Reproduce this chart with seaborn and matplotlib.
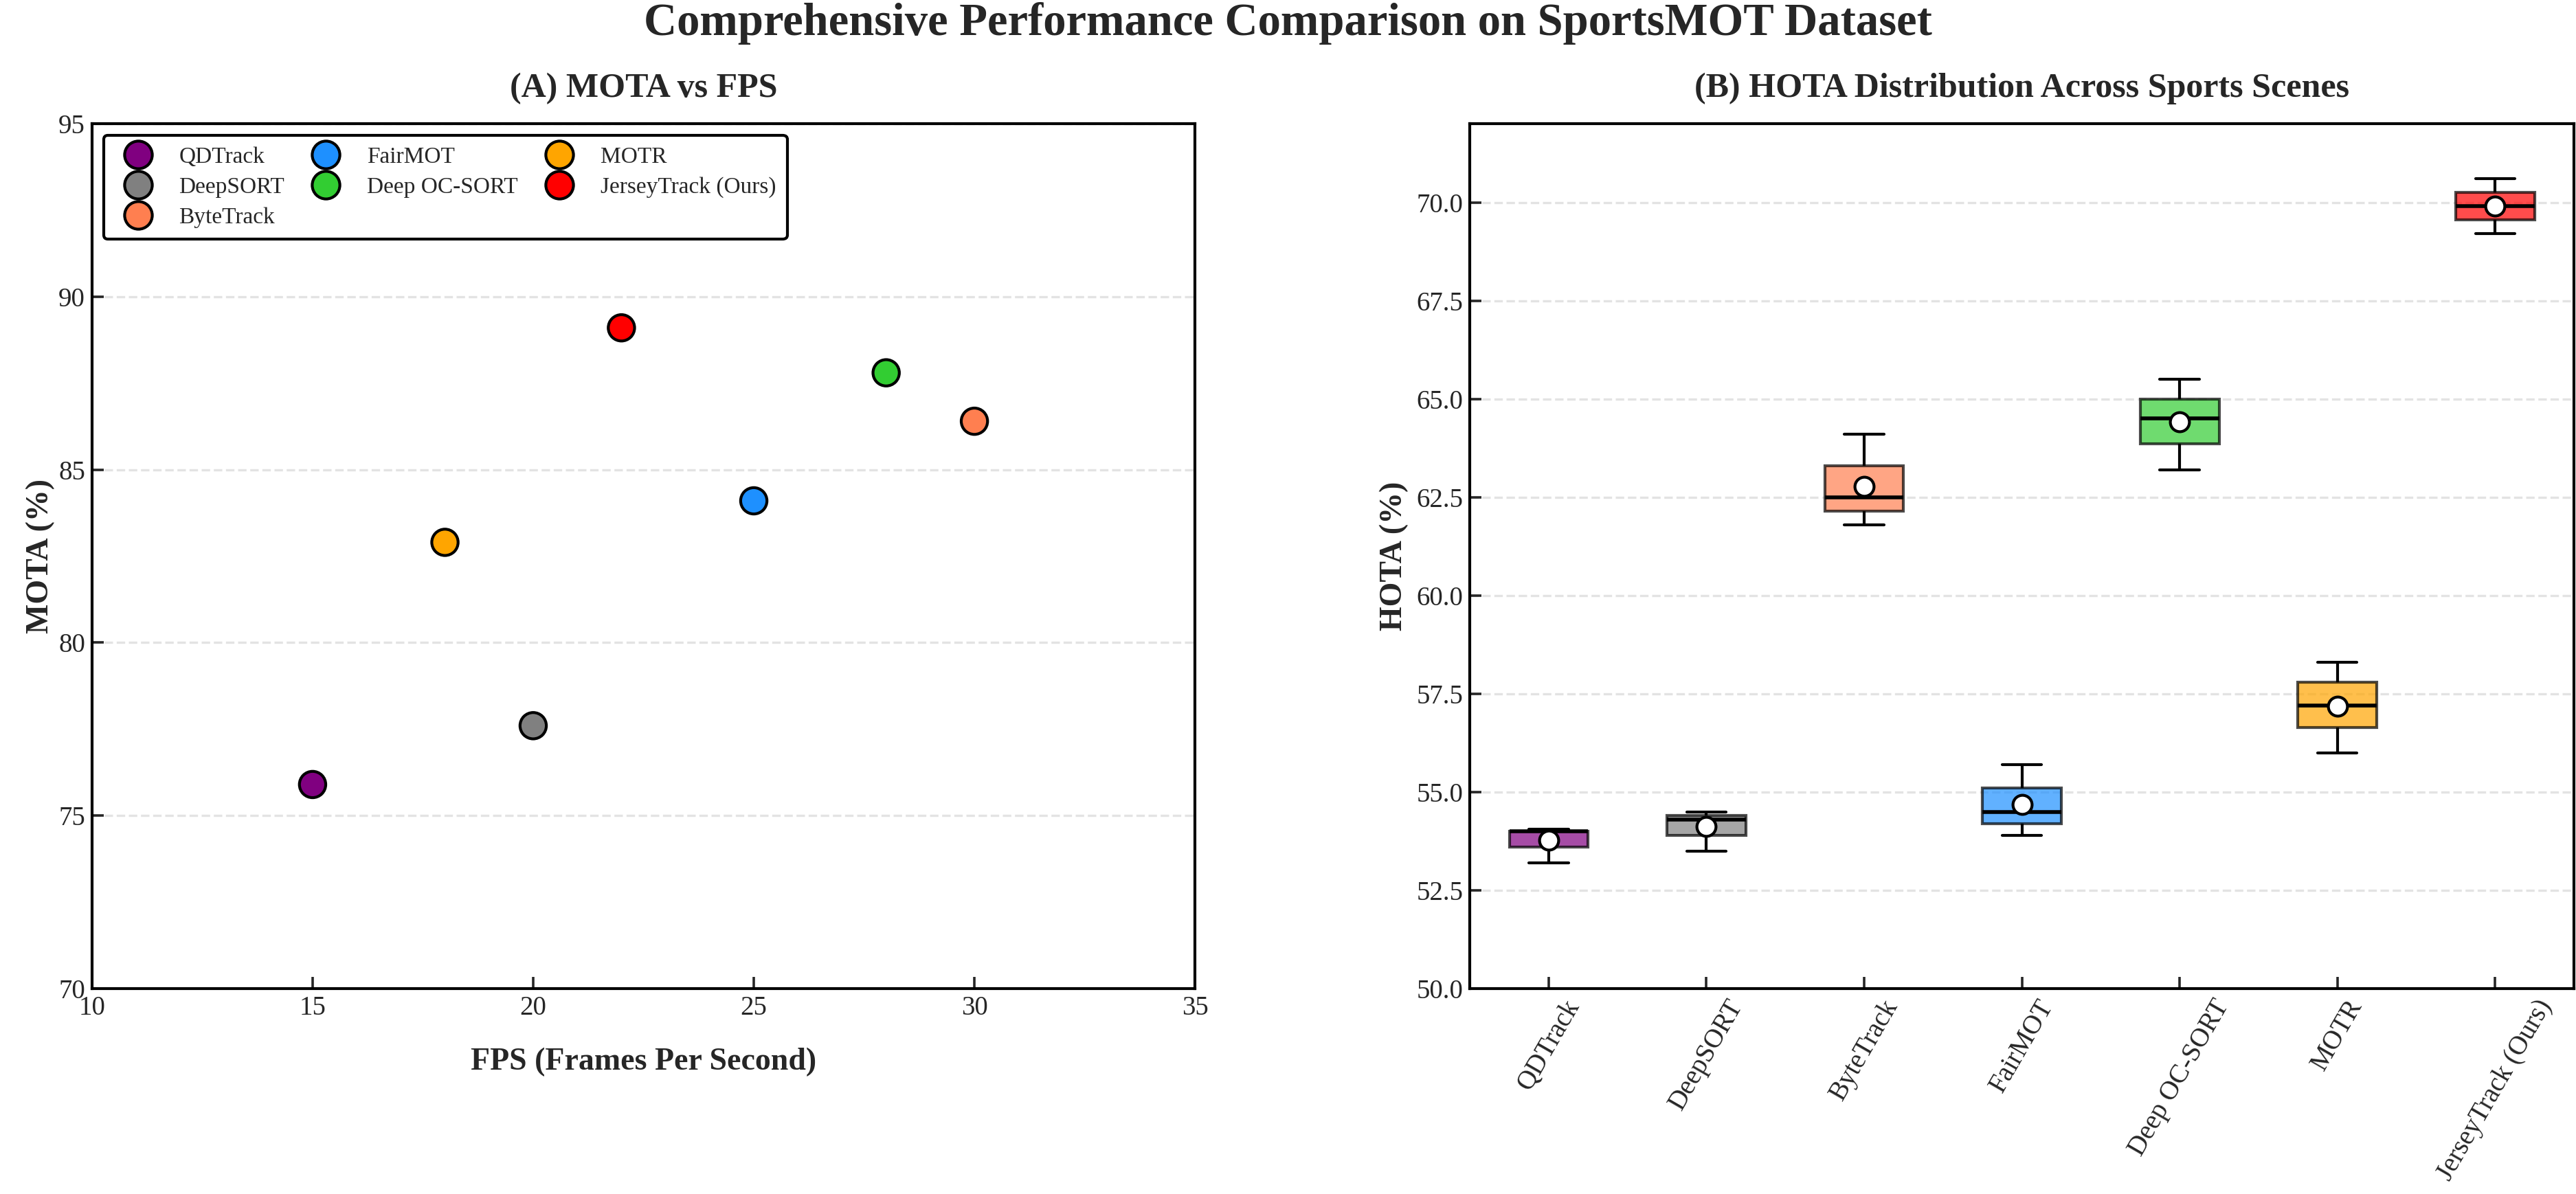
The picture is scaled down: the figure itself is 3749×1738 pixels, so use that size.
import numpy as np
import pandas as pd
import matplotlib
matplotlib.use("Agg")
import matplotlib.pyplot as plt
import seaborn as sns
from matplotlib.colors import to_rgba

# methods and colours
methods = ['QDTrack', 'DeepSORT', 'ByteTrack', 'FairMOT',
           'Deep OC-SORT', 'MOTR', 'JerseyTrack (Ours)']
colors = ['#800080', '#808080', '#FF7F50', '#1E90FF',
          '#32CD32', '#FFA500', '#FF0000']

# (A) MOTA vs FPS
fps = [15, 20, 30, 25, 28, 18, 22]
mota = [75.9, 77.6, 86.4, 84.1, 87.8, 82.9, 89.1]

# (B) HOTA per sports scene (5 scenes per method)
hota_qdtrack = [53.2, 53.6, 54.0, 54.0, 54.05]
hota_deepsort = [53.5, 53.9, 54.3, 54.4, 54.5]
hota_bytetrack = [61.8, 62.15, 62.5, 63.3, 64.1]
hota_fairmot = [53.9, 54.2, 54.5, 55.1, 55.7]
hota_deepocsort = [63.2, 63.85, 64.5, 65.0, 65.5]
hota_motr = [56.0, 56.65, 57.2, 57.8, 58.3]
hota_jersey = [69.2, 69.55, 69.9, 70.25, 70.6]

sns.set_theme(style='white')
plt.rcParams['font.family'] = ['Liberation Serif', 'DejaVu Serif']
plt.rcParams['axes.linewidth'] = 1.5

palette = dict(zip(methods, colors))

scatter_df = pd.DataFrame({'method': methods, 'fps': fps, 'mota': mota})

hota_lists = [hota_qdtrack, hota_deepsort, hota_bytetrack, hota_fairmot,
              hota_deepocsort, hota_motr, hota_jersey]
box_df = pd.DataFrame({
    'method': np.repeat(methods, [len(h) for h in hota_lists]),
    'hota': np.concatenate(hota_lists),
})

fig = plt.figure(figsize=(18.745, 8.69), dpi=200)
ax1 = fig.add_axes([0.0357, 0.172, 0.4282, 0.7244])
ax2 = fig.add_axes([0.5706, 0.172, 0.4286, 0.7244])

# --- (A) scatter
sns.scatterplot(data=scatter_df, x='fps', y='mota', hue='method',
                hue_order=methods, palette=palette, s=190,
                edgecolor='black', linewidth=1.5, ax=ax1, zorder=3)
ax1.set_xlim(10, 35)
ax1.set_ylim(70, 95)
ax1.set_xticks([10, 15, 20, 25, 30, 35])
ax1.set_yticks([70, 75, 80, 85, 90, 95])
ax1.set_xlabel('FPS (Frames Per Second)', fontsize=16.5, fontweight='bold', labelpad=14)
ax1.set_ylabel('MOTA (%)', fontsize=16.5, fontweight='bold', labelpad=2)
ax1.set_title('(A) MOTA vs FPS', fontsize=18, fontweight='bold', pad=14)
handles, labels = ax1.get_legend_handles_labels()
leg = ax1.legend(handles, labels, ncol=3, loc='upper left', fontsize=12,
                 frameon=True, fancybox=True, edgecolor='black',
                 markerscale=1.05, borderpad=0.5, columnspacing=0.8,
                 labelspacing=0.4)
leg.get_frame().set_linewidth(1.5)
leg.get_frame().set_alpha(1)

# --- (B) boxplot
sns.boxplot(data=box_df, x='method', y='hota', hue='method', order=methods,
            hue_order=methods, palette=palette, width=0.5, linecolor='black',
            linewidth=1.5, showmeans=True, showfliers=False, legend=False,
            meanprops=dict(marker='o', markerfacecolor='white',
                           markeredgecolor='black', markersize=10,
                           markeredgewidth=1.5),
            medianprops=dict(color='black', linewidth=2),
            ax=ax2)
for patch, c in zip(ax2.patches, colors):
    patch.set_facecolor(to_rgba(c, 0.7))
    patch.set_edgecolor(to_rgba('black', 0.7))
ax2.set_ylim(50, 72)
ax2.set_yticks(np.arange(50, 70.1, 2.5))
ax2.set_yticklabels([f'{v:.1f}' for v in np.arange(50, 70.1, 2.5)])
ax2.set_xlabel('')
ax2.set_ylabel('HOTA (%)', fontsize=16.5, fontweight='bold')
ax2.set_title('(B) HOTA Distribution Across Sports Scenes', fontsize=18,
              fontweight='bold', pad=14)
ax2.tick_params(axis='x', labelrotation=60)

for ax in (ax1, ax2):
    ax.grid(axis='y', linestyle='--', color='#dddddd', linewidth=1.2, alpha=0.8)
    ax.set_axisbelow(True)
    ax.tick_params(direction='in', length=6, width=1.3, labelsize=14,
                   left=True, bottom=True, top=False, right=False)
    for sp in ax.spines.values():
        sp.set_color('black')
        sp.set_linewidth(1.5)

fig.suptitle('Comprehensive Performance Comparison on SportsMOT Dataset',
             fontsize=24, fontweight='bold', y=0.998)

fig.savefig('out.png', dpi=200)
